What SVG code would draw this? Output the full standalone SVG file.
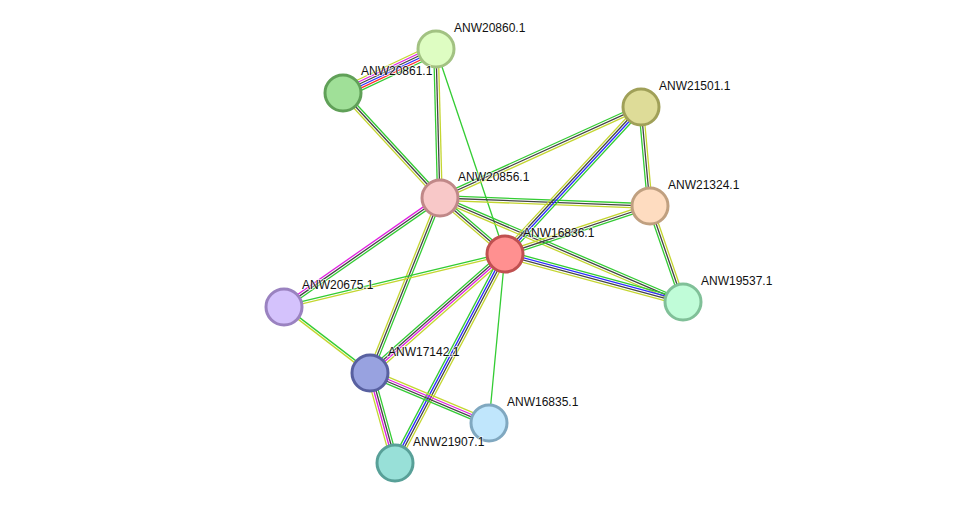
<svg xmlns="http://www.w3.org/2000/svg" width="976" height="509" viewBox="0 0 976 509">
<style>
line{stroke-width:1.3;fill:none}
.g{stroke:#33cc33}.k{stroke:#444}.y{stroke:#c4d630}.m{stroke:#e020e0}.b{stroke:#2a2aff}.r{stroke:#ff2a2a}
circle{stroke-width:3}
text{font-family:"Liberation Sans",Arial,sans-serif;font-size:12px;fill:#111;stroke:#fff;stroke-width:2;stroke-opacity:0.6;paint-order:stroke}
</style>
<rect width="976" height="509" fill="#fff"/>
<g id="edges">
<g transform="translate(436,49) rotate(154.7)"><line class="y" x2="102.9" y1="5.5" y2="5.5"/><line class="m" x2="102.9" y1="3.3" y2="3.3"/><line class="k" x2="102.9" y1="1.1" y2="1.1"/><line class="b" x2="102.9" y1="-1.1" y2="-1.1"/><line class="r" x2="102.9" y1="-3.3" y2="-3.3"/><line class="g" x2="102.9" y1="-5.5" y2="-5.5"/></g>
<g transform="translate(436,49) rotate(88.5)"><line class="g" x2="149" y1="2.3" y2="2.3"/><line class="k" x2="149"/><line class="y" x2="149" y1="-2.3" y2="-2.3"/></g>
<line class="g" x1="436" y1="49" x2="505" y2="254"/>
<g transform="translate(343,93) rotate(47.3)"><line class="y" x2="142.9" y1="2.3" y2="2.3"/><line class="k" x2="142.9"/><line class="g" x2="142.9" y1="-2.3" y2="-2.3"/></g>
<g transform="translate(440,198) rotate(-24.4)"><line class="y" x2="220.6" y1="2.3" y2="2.3"/><line class="k" x2="220.6"/><line class="g" x2="220.6" y1="-2.3" y2="-2.3"/></g>
<g transform="translate(440,198) rotate(2.2)"><line class="y" x2="210.2" y1="2.3" y2="2.3"/><line class="k" x2="210.2"/><line class="g" x2="210.2" y1="-2.3" y2="-2.3"/></g>
<g transform="translate(440,198) rotate(40.7)"><line class="y" x2="85.8" y1="2.3" y2="2.3"/><line class="k" x2="85.8"/><line class="g" x2="85.8" y1="-2.3" y2="-2.3"/></g>
<g transform="translate(440,198) rotate(23.2)"><line class="y" x2="264.3" y1="2.3" y2="2.3"/><line class="k" x2="264.3"/><line class="g" x2="264.3" y1="-2.3" y2="-2.3"/></g>
<g transform="translate(440,198) rotate(145.1)"><line class="m" x2="190.3" y1="2.3" y2="2.3"/><line class="k" x2="190.3"/><line class="g" x2="190.3" y1="-2.3" y2="-2.3"/></g>
<g transform="translate(440,198) rotate(111.8)"><line class="y" x2="188.5" y1="2.3" y2="2.3"/><line class="k" x2="188.5"/><line class="g" x2="188.5" y1="-2.3" y2="-2.3"/></g>
<g transform="translate(641,107) rotate(132.8)"><line class="y" x2="200.3" y1="3.4" y2="3.4"/><line class="k" x2="200.3" y1="1.1" y2="1.1"/><line class="b" x2="200.3" y1="-1.1" y2="-1.1"/><line class="g" x2="200.3" y1="-3.4" y2="-3.4"/></g>
<g transform="translate(641,107) rotate(84.8)"><line class="g" x2="99.4" y1="2.3" y2="2.3"/><line class="k" x2="99.4"/><line class="y" x2="99.4" y1="-2.3" y2="-2.3"/></g>
<g transform="translate(650,206) rotate(161.7)"><line class="y" x2="152.7" y1="2.3" y2="2.3"/><line class="k" x2="152.7"/><line class="g" x2="152.7" y1="-2.3" y2="-2.3"/></g>
<g transform="translate(650,206) rotate(71)"><line class="g" x2="101.5" y1="2.3" y2="2.3"/><line class="k" x2="101.5"/><line class="y" x2="101.5" y1="-2.3" y2="-2.3"/></g>
<g transform="translate(505,254) rotate(15.1)"><line class="y" x2="184.4" y1="3.4" y2="3.4"/><line class="k" x2="184.4" y1="1.1" y2="1.1"/><line class="b" x2="184.4" y1="-1.1" y2="-1.1"/><line class="g" x2="184.4" y1="-3.4" y2="-3.4"/></g>
<g transform="translate(505,254) rotate(166.5)"><line class="g" x2="227.3" y1="1.1" y2="1.1"/><line class="y" x2="227.3" y1="-1.1" y2="-1.1"/></g>
<g transform="translate(505,254) rotate(138.6)"><line class="g" x2="180" y1="3.4" y2="3.4"/><line class="k" x2="180" y1="1.1" y2="1.1"/><line class="m" x2="180" y1="-1.1" y2="-1.1"/><line class="y" x2="180" y1="-3.4" y2="-3.4"/></g>
<g transform="translate(505,254) rotate(117.8)"><line class="g" x2="236.2" y1="3.4" y2="3.4"/><line class="b" x2="236.2" y1="1.1" y2="1.1"/><line class="k" x2="236.2" y1="-1.1" y2="-1.1"/><line class="y" x2="236.2" y1="-3.4" y2="-3.4"/></g>
<line class="g" x1="505" y1="254" x2="489" y2="423"/>
<g transform="translate(284,307) rotate(37.5)"><line class="y" x2="108.4" y1="1.1" y2="1.1"/><line class="g" x2="108.4" y1="-1.1" y2="-1.1"/></g>
<g transform="translate(370,373) rotate(22.8)"><line class="g" x2="129.1" y1="3.4" y2="3.4"/><line class="k" x2="129.1" y1="1.1" y2="1.1"/><line class="m" x2="129.1" y1="-1.1" y2="-1.1"/><line class="y" x2="129.1" y1="-3.4" y2="-3.4"/></g>
<g transform="translate(370,373) rotate(74.5)"><line class="y" x2="93.4" y1="3.4" y2="3.4"/><line class="m" x2="93.4" y1="1.1" y2="1.1"/><line class="k" x2="93.4" y1="-1.1" y2="-1.1"/><line class="g" x2="93.4" y1="-3.4" y2="-3.4"/></g>
</g>
<g id="ANW20860.1"><circle cx="436" cy="49" r="18" fill="#defdc2" stroke="#a2c282"/><text x="454" y="32">ANW20860.1</text></g>
<g id="ANW20861.1"><circle cx="343" cy="93" r="18" fill="#a0e098" stroke="#60a058"/><text x="361" y="75">ANW20861.1</text></g>
<g id="ANW21501.1"><circle cx="641" cy="107" r="18" fill="#dedc98" stroke="#a0a058"/><text x="659" y="90">ANW21501.1</text></g>
<g id="ANW20856.1"><circle cx="440" cy="198" r="18" fill="#f8c8c8" stroke="#c08888"/><text x="458" y="181">ANW20856.1</text></g>
<g id="ANW21324.1"><circle cx="650" cy="206" r="18" fill="#fedcc0" stroke="#c0a080"/><text x="668" y="189">ANW21324.1</text></g>
<g id="ANW16836.1"><circle cx="505" cy="254" r="18" fill="#ff9090" stroke="#c05050"/><text x="523" y="237">ANW16836.1</text></g>
<g id="ANW20675.1"><circle cx="284" cy="307" r="18" fill="#d4c2fc" stroke="#9a82c0"/><text x="302" y="289">ANW20675.1</text></g>
<g id="ANW19537.1"><circle cx="683" cy="302" r="18" fill="#c0fcd8" stroke="#80c098"/><text x="701" y="285">ANW19537.1</text></g>
<g id="ANW17142.1"><circle cx="370" cy="373" r="18" fill="#98a2e0" stroke="#5860a0"/><text x="388" y="356">ANW17142.1</text></g>
<g id="ANW16835.1"><circle cx="489" cy="423" r="18" fill="#c0e6fc" stroke="#80a8c0"/><text x="507" y="406">ANW16835.1</text></g>
<g id="ANW21907.1"><circle cx="395" cy="463" r="18" fill="#98e0d8" stroke="#58a098"/><text x="413" y="446">ANW21907.1</text></g>
</svg>
